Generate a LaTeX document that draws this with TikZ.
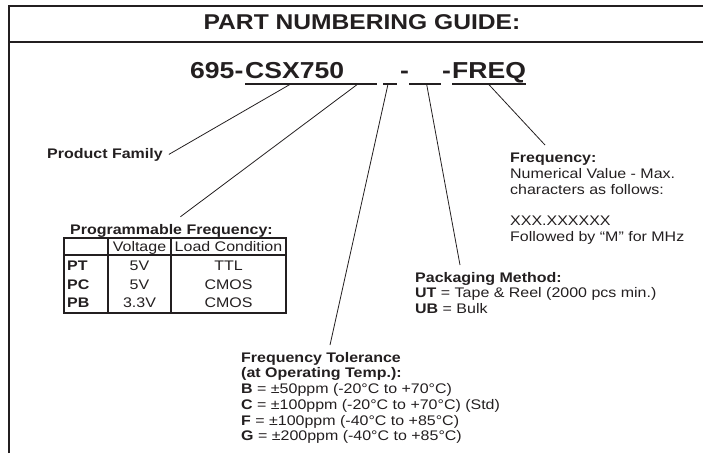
\documentclass[tikz,border=0pt]{standalone}
\usepackage{fontspec}
\setmainfont{Liberation Sans}[FakeStretch=1.15]
\usetikzlibrary{calc}
\definecolor{ink}{HTML}{231F20}
\tikzstyle{note} = [inner sep=0pt, align=left, anchor=north west, text=ink, font=\fontsize{13.9}{15.7}\selectfont]
\tikzstyle{heading} = [note, font=\fontsize{13.9}{15.7}\selectfont\bfseries]
\tikzstyle{partno} = [inner sep=0pt, anchor=base west, text=ink, font=\fontsize{23.1}{26}\selectfont\bfseries]
\tikzstyle{cell} = [inner sep=0pt, anchor=base, text=ink, font=\fontsize{13.9}{15.7}\selectfont]
\tikzstyle{frame} = [draw=ink, line width=2pt]
\tikzstyle{rule} = [draw=ink, line width=1.5pt]
\tikzstyle{uline} = [draw=ink, line width=1.5pt]
\tikzstyle{grid} = [draw=ink, line width=1.1pt]
\tikzstyle{leader} = [draw=ink, line width=0.8pt]

\begin{document}
\begin{tikzpicture}[x=1pt, y=-1pt]
    \useasboundingbox (0,0) rectangle (703,453);
    % Draw the frame and the title bar
    \draw[frame] (9,453) -- (9,6) -- (703,6);
    \draw[rule] (9,42) -- (703,42);
    \node[text=ink, font=\fontsize{21.4}{24}\selectfont\bfseries] (title) at (362,22) {PART NUMBERING GUIDE:};

    % The part number, piece by piece
    \node[partno] (pfx) at (190,78.5) {695-};
    \node[partno] (csx) at (245,78.5) {CSX750};
    \node[partno] (dashA) at (400,78.5) {-};
    \node[partno] (dashB) at (442,78.5) {-};
    \node[partno] (freq) at (452,78.5) {FREQ};

    % Underlines and the blank slots
    \draw[uline] ([yshift=-5.5pt]csx.base west) -- coordinate[pos=.46] (csxU) ([yshift=-5.5pt]csx.base east);
    \foreach \a/\b/\p/\name in {344/377/.42/slotA, 383/397/.36/slotB, 409/441/.55/slotC}
        \draw[uline] (\a,84) -- coordinate[pos=\p] (\name) (\b,84);
    \draw[uline] ([yshift=-5.5pt]freq.base west) -- coordinate[pos=.49] (freqU) ([yshift=-5.5pt]freq.base east);

    % Labels
    \node[heading, anchor=base west] (fam) at (47,158) {Product Family};
    \node[heading, anchor=base west] (prog) at (70,234) {Programmable Frequency:};
    \node[note] (fq) at (510,153) {\textbf{Frequency:}\\Numerical Value - Max.\\characters as follows:\\[15.7pt]XXX.XXXXXX\\Followed by “M” for MHz};
    \node[note] (pack) at (415,272) {\textbf{Packaging Method:}\\\textbf{UT} = Tape \& Reel (2000 pcs min.)\\\textbf{UB} = Bulk};
    \node[note] (tol) at (241,352) {\textbf{Frequency Tolerance}\\\textbf{(at Operating Temp.):}\\\textbf{B} = ±50ppm (-20°C to +70°C)\\\textbf{C} = ±100ppm (-20°C to +70°C) (Std)\\\textbf{F} = ±100ppm (-40°C to +85°C)\\\textbf{G} = ±200ppm (-40°C to +85°C)};

    % Programmable frequency table
    \draw[grid] (64,238) rectangle (286,313);
    \draw[grid] (64,255) -- (286,255);
    \draw[grid] (108,238) -- (108,313);
    \draw[grid] (171,238) -- (171,313);
    \node[cell] (hV) at (139.5,251) {Voltage};
    \node[cell] (hL) at (228.5,251) {Load Condition};
    \foreach \y/\code/\volt/\load [count=\i] in {270/PT/5V/TTL, 289/PC/5V/CMOS, 307.5/PB/3.3V/CMOS} {
        \node[cell, anchor=base west, font=\fontsize{13.9}{15.7}\selectfont\bfseries] (code\i) at (67,\y) {\code};
        \node[cell] (volt\i) at (139.5,\y) {\volt};
        \node[cell] (load\i) at (228.5,\y) {\load};
    }

    % Leader lines from the part number to the labels
    \draw[leader] (csxU) -- ([xshift=6pt]fam.east);
    \draw[leader] (slotA) -- ([xshift=9pt,yshift=7pt]prog.north);
    \draw[leader] (slotB) -- ([xshift=89pt,yshift=7pt]tol.north west);
    \draw[leader] (slotC) -- ([xshift=45pt,yshift=7pt]pack.north west);
    \draw[leader] (freqU) -- ([xshift=35pt,yshift=8pt]fq.north west);
\end{tikzpicture}
\end{document}
